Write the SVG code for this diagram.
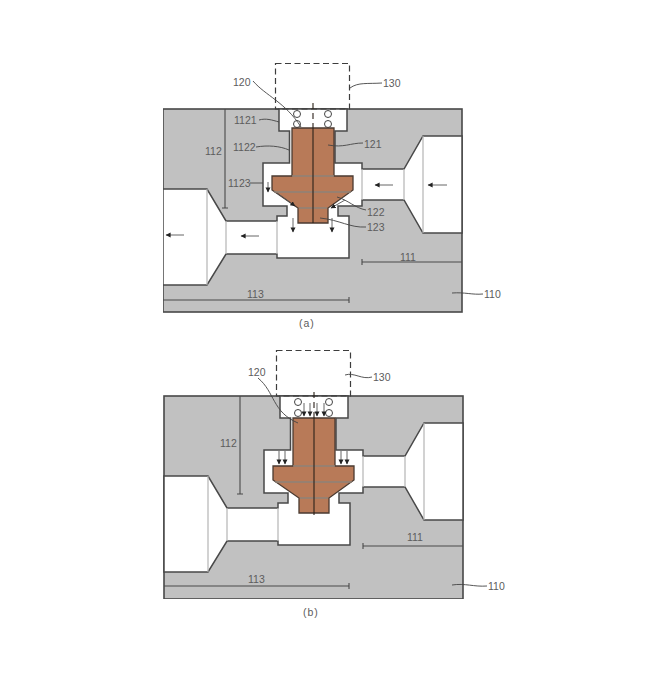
<svg xmlns="http://www.w3.org/2000/svg" xmlns:xlink="http://www.w3.org/1999/xlink" width="666" height="693" viewBox="0 0 666 693">
<style>
.body{fill:#c1c1c1;stroke:#484848;stroke-width:1.6}
.cav{fill:#fff;stroke:#484848;stroke-width:1.5;stroke-linejoin:miter}
.div{stroke:#b5b5b5;stroke-width:1.2;fill:none}
.valve{fill:#b87a58;stroke:#4a3a30;stroke-width:1.3}
.band{stroke:#8d8378;stroke-width:1.3;fill:none}
.axis{stroke:#2a2018;stroke-width:1.1;fill:none}
.ring{fill:#fff;stroke:#444;stroke-width:1}
.dash{fill:none;stroke:#3c3c3c;stroke-width:1.2;stroke-dasharray:6 3.5}
.dim{fill:none;stroke:#4a4a4a;stroke-width:1.1}
.lead{fill:none;stroke:#444;stroke-width:.9}
.flow{fill:none;stroke:#555;stroke-width:.9;marker-end:url(#ah)}
text{font-family:"Liberation Sans",Arial,sans-serif;font-size:10.5px;fill:#5c5c5c}
</style>
<defs>
<filter id="soft" x="0" y="0" width="100%" height="100%"><feGaussianBlur stdDeviation="0.35"/></filter>
<marker id="ah" markerWidth="6" markerHeight="6" refX="4.6" refY="2.5" orient="auto" markerUnits="userSpaceOnUse"><path d="M0 0L5 2.5L0 5Z" fill="#222"/></marker>
<path id="cavity" d="M279 109H347V131H335V163H362V169H404L423 136H462V233H423L404 200H362V206H338V216H349V258H277V254H226L207 285H163V189H207L226 221H277V216H287V206H263V163H289.500V131H279Z"/>
<path id="valveShape" d="M292 128H334V176H353V190L328 208V223H298V208L272 190V176H292Z"/>
</defs>
<rect width="666" height="693" fill="#fff"/>
<g filter="url(#soft)">
<g id="housing-a">
<rect class="body" x="163" y="109" width="299" height="203"/>
<use href="#cavity" class="cav"/>
<path class="div" d="M404 169V200M423 136V233M362 169V200M226 221V254M207 189V285M277 221V254"/>
</g>
<g id="actuator-a"><rect class="dash" x="275.500" y="63.500" width="74" height="45.500"/></g>
<g id="spring-a">
<circle class="ring" cx="297" cy="114" r="3.500"/><circle class="ring" cx="297" cy="124" r="3.500"/>
<circle class="ring" cx="328" cy="114" r="3.500"/><circle class="ring" cx="328" cy="124" r="3.500"/>
</g>
<g id="valve-a">
<use href="#valveShape" class="valve"/>
<path class="band" d="M292 176H334M274 192H351M299 208H327"/>
<path class="axis" d="M313 128V223"/>
<path class="axis" stroke-dasharray="6 4" d="M313 103V128"/>
</g>
<g id="housing-b">
<rect class="body" x="164" y="396" width="299" height="203"/>
<use href="#cavity" class="cav" transform="translate(1 287)"/>
<path class="div" transform="translate(1 287)" d="M404 169V200M423 136V233M362 169V200M226 221V254M207 189V285M277 221V254"/>
</g>
<g id="actuator-b"><rect class="dash" x="276.500" y="350.500" width="74" height="45.500"/></g>
<g id="spring-b">
<circle class="ring" cx="298" cy="402" r="3.500"/><circle class="ring" cx="298" cy="413" r="3.500"/>
<circle class="ring" cx="329" cy="402" r="3.500"/><circle class="ring" cx="329" cy="413" r="3.500"/>
</g>
<g id="valve-b" transform="translate(1 290)">
<use href="#valveShape" class="valve"/>
<path class="band" d="M292 176H334M274 192H351M299 208H327"/>
<path class="axis" d="M313 128V225"/>
<path class="axis" stroke-dasharray="6 4" d="M313 102V128"/>
</g>
<g id="connectors">
<path class="dim" d="M225 109V208M222 208H228M362 262H462M362 259V265M163 300H349M349 297V303"/>
<path class="dim" d="M240 396V494M237 494H243M363 546H463M363 543V549M164 586H349M349 583V589"/>
<path class="lead" d="M253 81C266 96 285 102 301 127M350 88C358 82 368 84 382 83M259 120C266 118 272 120 279 122M256 147C268 145 280 146 289 150M250 183H263M328 145C344 148 350 143 363 143M337 197C348 200 355 208 366 210M320 218C340 220 350 228 366 227M452 293C465 292 472 295 483 294"/>
<path class="lead" d="M258 378C275 392 272 412 298 423M345 375C354 372 362 380 372 377M452 585C465 583 474 587 487 586"/>
<path class="flow" d="M447 185H428"/><path class="flow" d="M393 185H375"/><path class="flow" d="M259 236H241"/><path class="flow" d="M184 235H166"/>
<path class="flow" d="M268 182V192"/><path class="flow" d="M293 218V232"/><path class="flow" d="M332 218V232"/>
<path class="flow" d="M277 193L295 206"/><path class="flow" d="M345 200L331 208"/>
<path class="flow" d="M304 403V416"/><path class="flow" d="M310 403V416"/><path class="flow" d="M317 403V416"/><path class="flow" d="M324 403V416"/>
<path class="flow" d="M279 451V464"/><path class="flow" d="M285 451V464"/><path class="flow" d="M341 451V464"/><path class="flow" d="M347 451V464"/>
</g>
</g>
<g id="labels">
<text x="233" y="86">120</text><text x="383" y="87">130</text><text x="234" y="124">1121</text><text x="233" y="151">1122</text>
<text x="205" y="155">112</text><text x="228" y="187">1123</text><text x="364" y="148">121</text><text x="367" y="216">122</text>
<text x="367" y="231">123</text><text x="400" y="261">111</text><text x="247" y="298">113</text><text x="484" y="298">110</text>
<text x="299" y="327" letter-spacing="1">(a)</text>
<text x="248" y="376">120</text><text x="373" y="381">130</text><text x="220" y="447">112</text><text x="407" y="541">111</text>
<text x="248" y="583">113</text><text x="488" y="590">110</text><text x="303" y="616" letter-spacing="1">(b)</text>
</g>
</svg>
